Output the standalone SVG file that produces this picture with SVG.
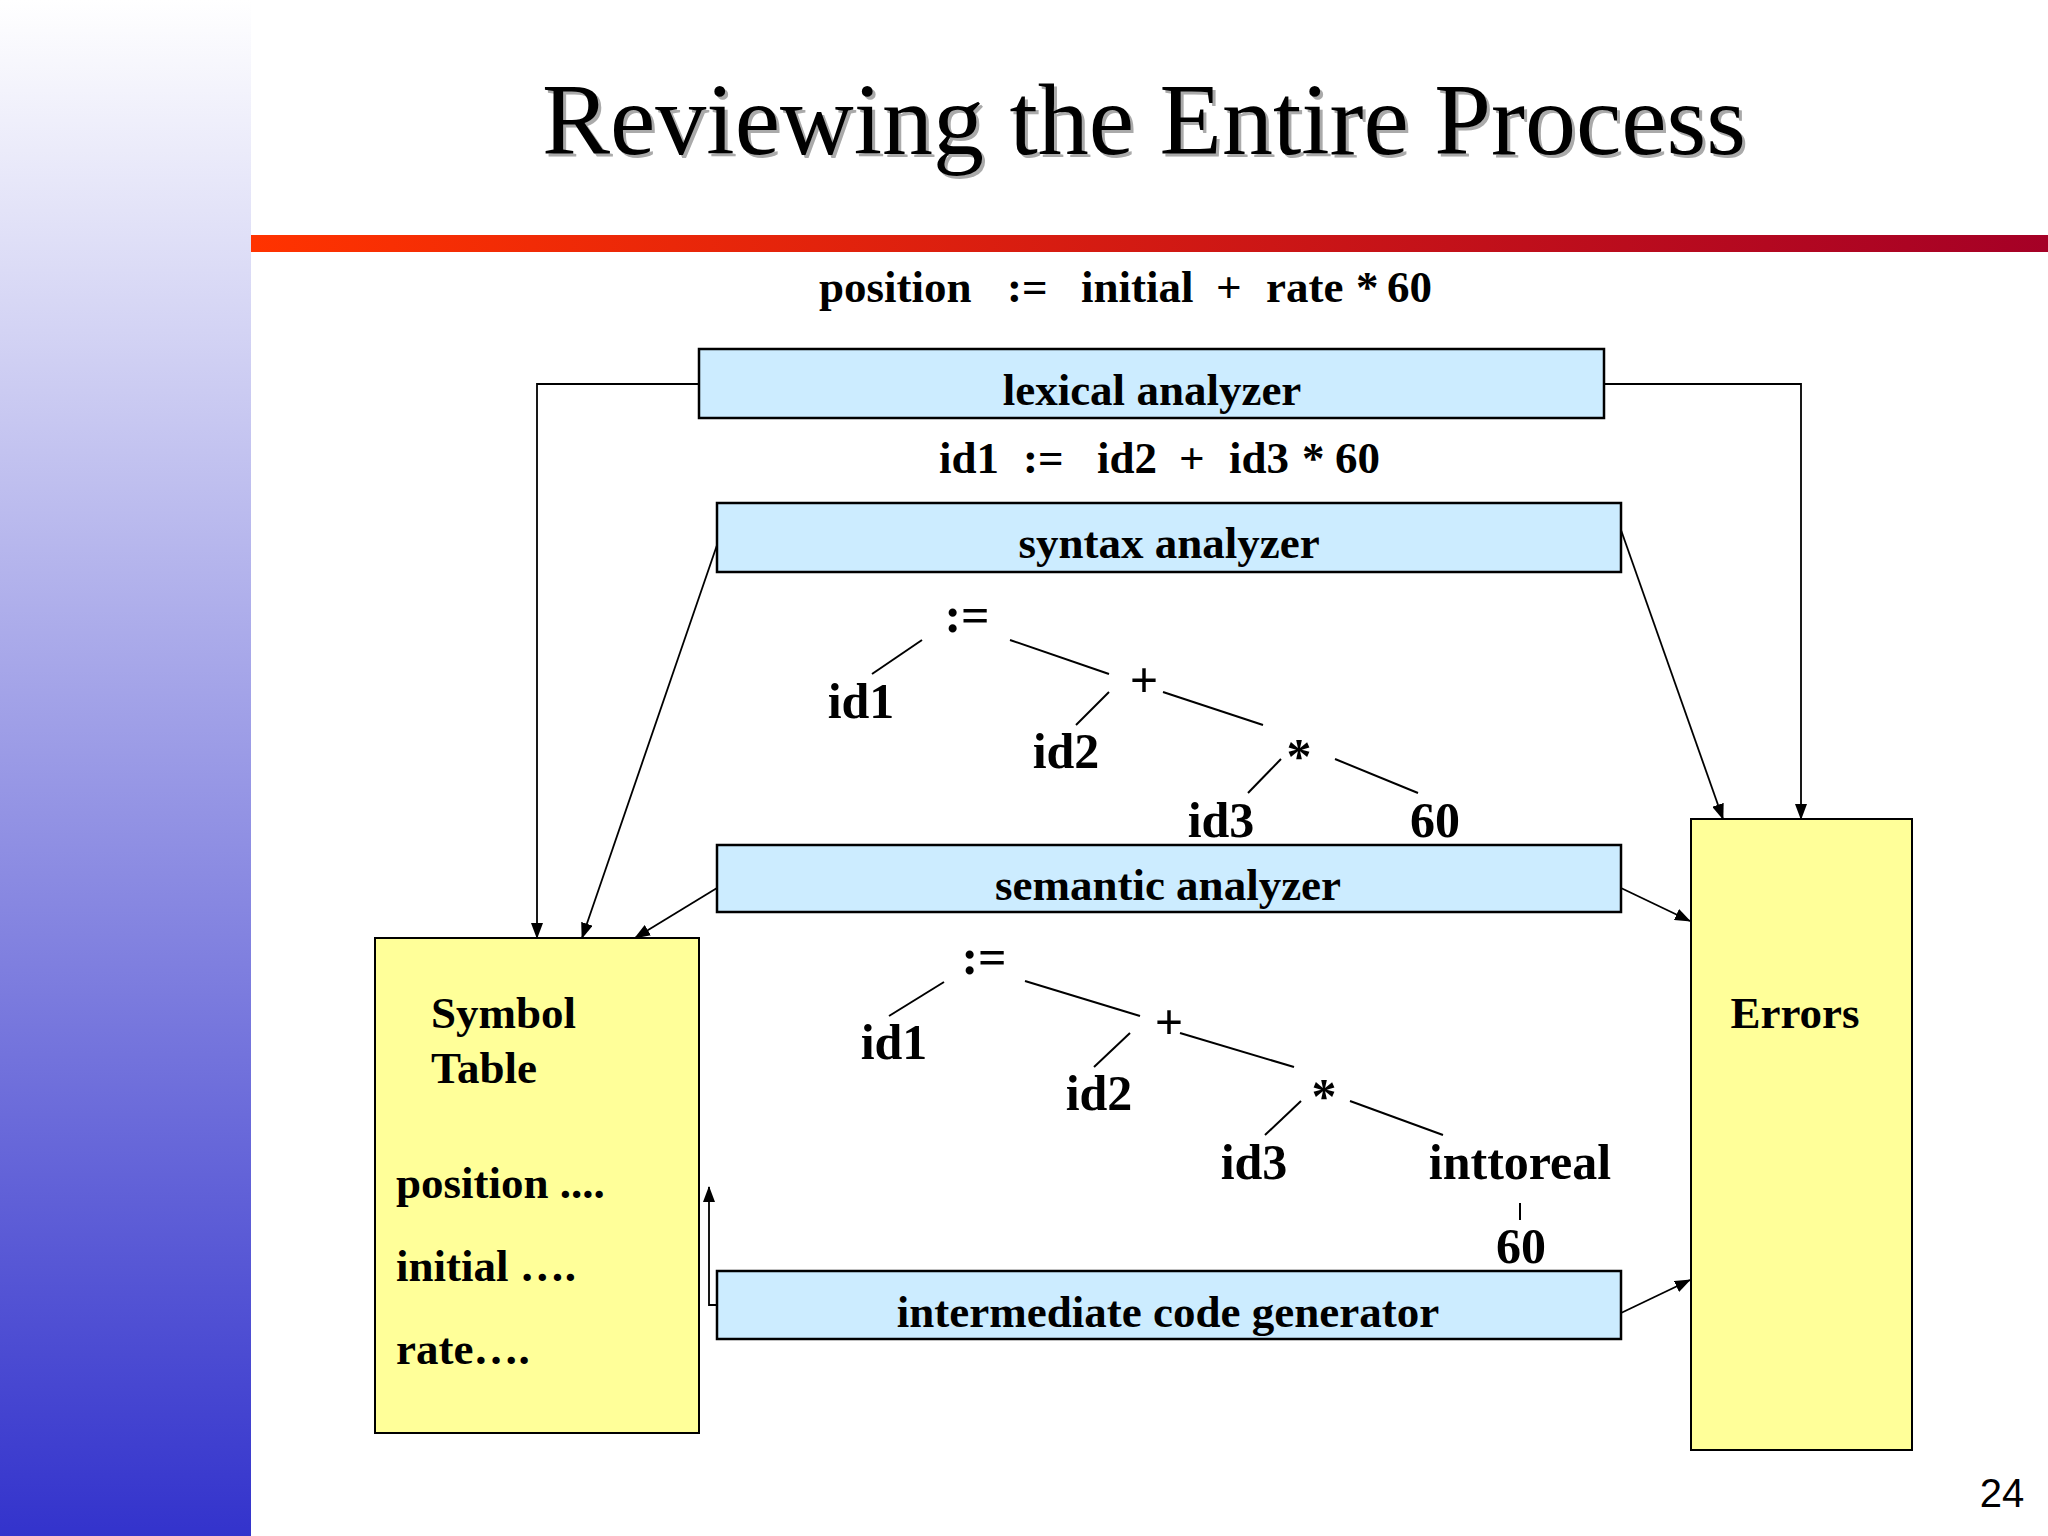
<svg xmlns="http://www.w3.org/2000/svg" width="2048" height="1536" viewBox="0 0 2048 1536">
<defs>
<linearGradient id="side" x1="0" y1="0" x2="0" y2="1">
<stop offset="0" stop-color="#ffffff"/>
<stop offset="1" stop-color="#3333cc"/>
</linearGradient>
<linearGradient id="bar" x1="0" y1="0" x2="1" y2="0">
<stop offset="0" stop-color="#ff3300"/>
<stop offset="1" stop-color="#a50026"/>
</linearGradient>
<marker id="ah" markerUnits="userSpaceOnUse" markerWidth="16" markerHeight="12" refX="15" refY="6" orient="auto">
<path d="M0,0 L16,6 L0,12 Z" fill="#000"/>
</marker>
<style>
.lbl{font-family:"Liberation Serif","Times New Roman",serif;font-weight:bold;font-size:45px;fill:#000}
.tree{font-family:"Liberation Serif","Times New Roman",serif;font-weight:bold;font-size:50px;fill:#000;text-anchor:middle}
.blue{fill:#ccecff;stroke:#000;stroke-width:2.5}
.yel{fill:#ffff99;stroke:#000;stroke-width:2}
.edge{fill:none;stroke:#000;stroke-width:1.8}
.tl{stroke:#000;stroke-width:2}
.mid{text-anchor:middle}
</style>
</defs>
<rect x="0" y="0" width="251" height="1536" fill="url(#side)"/>
<rect x="251" y="235" width="1797" height="17" fill="url(#bar)"/>
<g id="title">
<text x="1147" y="157" text-anchor="middle" font-family="Liberation Serif,Times New Roman,serif" font-size="102" fill="#aaaaaa">Reviewing the Entire Process</text>
<text x="1144" y="154" text-anchor="middle" font-family="Liberation Serif,Times New Roman,serif" font-size="102" fill="#000">Reviewing the Entire Process</text>
</g>
<g id="source">
<text class="lbl" x="819" y="302">position</text>
<text class="lbl" x="1007" y="302">:=</text>
<text class="lbl" x="1081" y="302">initial</text>
<text class="lbl" x="1216" y="302">+</text>
<text class="lbl" x="1266" y="302">rate</text>
<text class="lbl" x="1356" y="302">*</text>
<text class="lbl" x="1387" y="302">60</text>
</g>
<g id="tokens">
<text class="lbl" x="939" y="473">id1</text>
<text class="lbl" x="1023" y="473">:=</text>
<text class="lbl" x="1097" y="473">id2</text>
<text class="lbl" x="1179" y="473">+</text>
<text class="lbl" x="1229" y="473">id3</text>
<text class="lbl" x="1302" y="473">*</text>
<text class="lbl" x="1335" y="473">60</text>
</g>
<g id="connectors">
<polyline class="edge" points="699,384 537,384 537,938" marker-end="url(#ah)"/>
<polyline class="edge" points="1604,384 1801,384 1801,819" marker-end="url(#ah)"/>
<line class="edge" x1="717" y1="545" x2="582" y2="938" marker-end="url(#ah)"/>
<line class="edge" x1="1621" y1="530" x2="1723" y2="819" marker-end="url(#ah)"/>
<line class="edge" x1="717" y1="888" x2="635" y2="938" marker-end="url(#ah)"/>
<line class="edge" x1="1621" y1="888" x2="1690" y2="921" marker-end="url(#ah)"/>
<line class="edge" x1="1621" y1="1313" x2="1690" y2="1280" marker-end="url(#ah)"/>
<polyline class="edge" points="717,1305 709,1305 709,1187" marker-end="url(#ah)"/>
</g>
<g id="lexical">
<rect class="blue" x="699" y="349" width="905" height="69"/>
<text class="lbl mid" x="1152" y="405">lexical analyzer</text>
</g>
<g id="syntax">
<rect class="blue" x="717" y="503" width="904" height="69"/>
<text class="lbl mid" x="1169" y="558">syntax analyzer</text>
</g>
<g id="tree1">
<text class="tree" x="967" y="632">:=</text>
<text class="tree" x="861" y="718">id1</text>
<text class="tree" x="1144" y="697">+</text>
<text class="tree" x="1066" y="768">id2</text>
<text class="tree" x="1299" y="773">*</text>
<text class="tree" x="1221" y="837">id3</text>
<text class="tree" x="1435" y="837">60</text>
<line class="tl" x1="922" y1="640" x2="872" y2="674"/>
<line class="tl" x1="1010" y1="640" x2="1109" y2="674"/>
<line class="tl" x1="1109" y1="692" x2="1076" y2="725"/>
<line class="tl" x1="1163" y1="692" x2="1263" y2="725"/>
<line class="tl" x1="1281" y1="759" x2="1248" y2="793"/>
<line class="tl" x1="1335" y1="759" x2="1418" y2="793"/>
</g>
<g id="semantic">
<rect class="blue" x="717" y="845" width="904" height="67"/>
<text class="lbl mid" x="1168" y="900">semantic analyzer</text>
</g>
<g id="tree2">
<text class="tree" x="984" y="974">:=</text>
<text class="tree" x="894" y="1059">id1</text>
<text class="tree" x="1169" y="1039">+</text>
<text class="tree" x="1099" y="1110">id2</text>
<text class="tree" x="1324" y="1113">*</text>
<text class="tree" x="1254" y="1179">id3</text>
<text class="tree" x="1520" y="1179">inttoreal</text>
<text class="tree" x="1521" y="1263">60</text>
<line class="tl" x1="944" y1="982" x2="889" y2="1016"/>
<line class="tl" x1="1025" y1="981" x2="1140" y2="1016"/>
<line class="tl" x1="1130" y1="1033" x2="1094" y2="1067"/>
<line class="tl" x1="1180" y1="1033" x2="1294" y2="1067"/>
<line class="tl" x1="1301" y1="1101" x2="1265" y2="1135"/>
<line class="tl" x1="1350" y1="1101" x2="1443" y2="1135"/>
<line class="tl" x1="1520" y1="1203" x2="1520" y2="1220" stroke-width="1.5"/>
</g>
<g id="intermediate">
<rect class="blue" x="717" y="1271" width="904" height="68"/>
<text class="lbl mid" x="1168" y="1327">intermediate code generator</text>
</g>
<g id="symtable">
<rect class="yel" x="375" y="938" width="324" height="495"/>
<text class="lbl" x="431" y="1028">Symbol</text>
<text class="lbl" x="431" y="1083">Table</text>
<text class="lbl" x="396" y="1198">position ....</text>
<text class="lbl" x="396" y="1281">initial ….</text>
<text class="lbl" x="396" y="1364">rate….</text>
</g>
<g id="errors">
<rect class="yel" x="1691" y="819" width="221" height="631"/>
<text class="lbl mid" x="1795" y="1028">Errors</text>
</g>
<text x="2002" y="1507" text-anchor="middle" font-family="Liberation Sans,Arial,sans-serif" font-size="40" fill="#000">24</text>
</svg>
